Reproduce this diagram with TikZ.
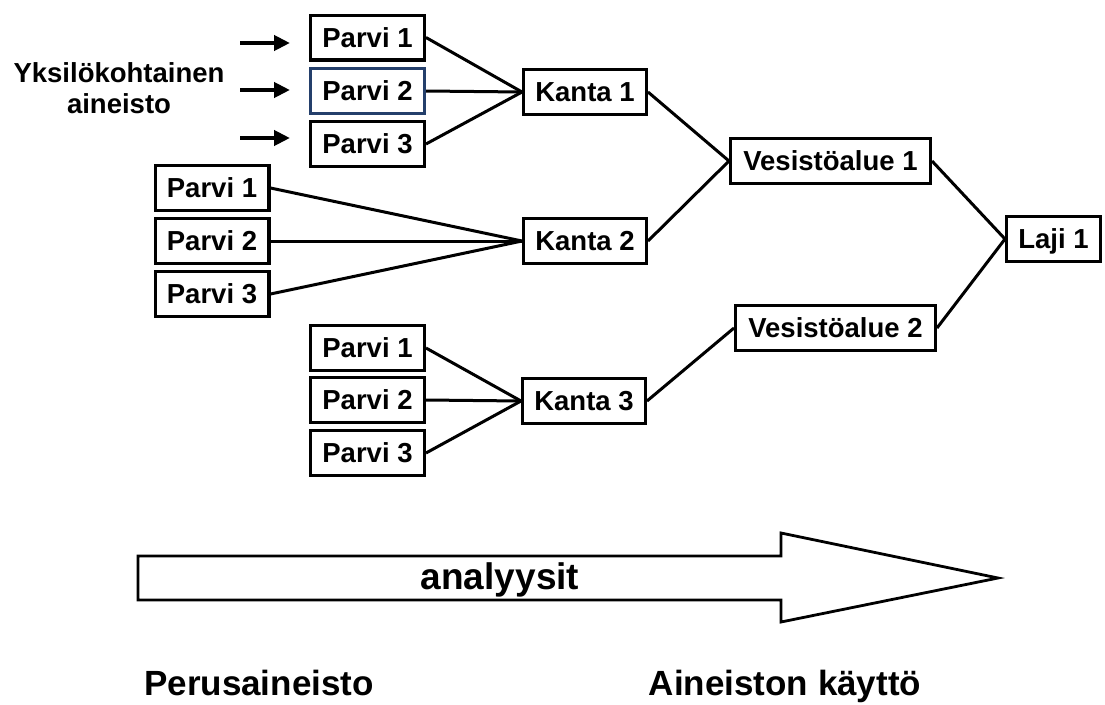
\documentclass[tikz,border=0pt]{standalone}
\usepackage{fontspec}
\setmainfont{Liberation Sans}
\usetikzlibrary{arrows.meta}
\definecolor{navy}{HTML}{243F6B}
\begin{document}
\begin{tikzpicture}[x=1pt,y=-1pt,
  box/.style={draw=black, line width=3.3pt, rectangle, inner sep=0pt, minimum height=44.7pt,
    font=\fontsize{27.5}{31}\selectfont\bfseries, text height=19.5pt, text depth=0pt},
  parvi/.style={box, minimum width=113.7pt},
  kanta/.style={box, minimum width=122.7pt},
  vesi/.style={box, minimum width=199.7pt},
  laji/.style={box, minimum width=93.7pt},
  conn/.style={line width=3pt},
  feed/.style={line width=4.2pt, -{Triangle[length=16pt,width=15pt]}},
  bottomlabel/.style={font=\fontsize{35}{40}\selectfont\bfseries, anchor=base, inner sep=0pt}
]
\fill[white] (0,0) rectangle (1105,704);
\useasboundingbox (0,0) rectangle (1105,704);

% left label and input arrows
\node[font=\fontsize{27.5}{31}\selectfont\bfseries, align=center, inner sep=0pt] (yk) at (119,88) {Yksilökohtainen\\aineisto};
\coordinate (f1s) at (240,43);  \coordinate (f1e) at (290,43);
\coordinate (f2s) at (240,90);  \coordinate (f2e) at (290,90);
\coordinate (f3s) at (240,138); \coordinate (f3e) at (290,138);
\draw[feed] (f1s) -- (f1e);
\draw[feed] (f2s) -- (f2e);
\draw[feed] (f3s) -- (f3e);

% group 1
\node[parvi] (a1) at (367.5,37.5) {Parvi 1};
\node[parvi, draw=navy] (a2) at (367.5,91) {Parvi 2};
\node[parvi] (a3) at (367.5,144) {Parvi 3};
\node[kanta] (k1) at (585,92) {Kanta 1};

% group 2
\node[parvi] (b1) at (212,188) {Parvi 1};
\node[parvi] (b2) at (212,241) {Parvi 2};
\node[parvi] (b3) at (212,294) {Parvi 3};
\node[kanta] (k2) at (585,241) {Kanta 2};

% group 3
\node[parvi] (c1) at (367.5,348) {Parvi 1};
\node[parvi] (c2) at (367.5,400) {Parvi 2};
\node[parvi] (c3) at (367.5,453) {Parvi 3};
\node[kanta] (k3) at (584,401) {Kanta 3};

% higher levels
\node[vesi] (v1) at (830.5,161) {Vesistöalue 1};
\node[vesi] (v2) at (835.5,328) {Vesistöalue 2};
\node[laji] (l1) at (1053.5,239) {Laji 1};

% connectors
\draw[conn] (a1.east) -- (k1.west);
\draw[conn] (a2.east) -- (k1.west);
\draw[conn] (a3.east) -- (k1.west);
\draw[conn] (b1.east) -- (k2.west);
\draw[conn] (b2.east) -- (k2.west);
\draw[conn] (b3.east) -- (k2.west);
\draw[conn] (c1.east) -- (k3.west);
\draw[conn] (c2.east) -- (k3.west);
\draw[conn] (c3.east) -- (k3.west);
\draw[conn] (k1.east) -- (v1.west);
\draw[conn] (k2.east) -- (v1.west);
\draw[conn] (k3.east) -- (v2.west);
\draw[conn] (v1.east) -- (l1.west);
\draw[conn] (v2.east) -- (l1.west);

% big arrow
\draw[line width=2.8pt, line join=miter] (138,556) -- (781,556) -- (781,533) -- (998,578) -- (781,622) -- (781,600) -- (138,600) -- cycle;
\node[font=\fontsize{37}{40}\selectfont\bfseries, anchor=base, inner sep=0pt] (an) at (500,589) {analyysit};

% bottom labels
\node[bottomlabel] (pe) at (259,695) {Perusaineisto};
\node[bottomlabel] (ak) at (785,695) {Aineiston käyttö};
\end{tikzpicture}
\end{document}
